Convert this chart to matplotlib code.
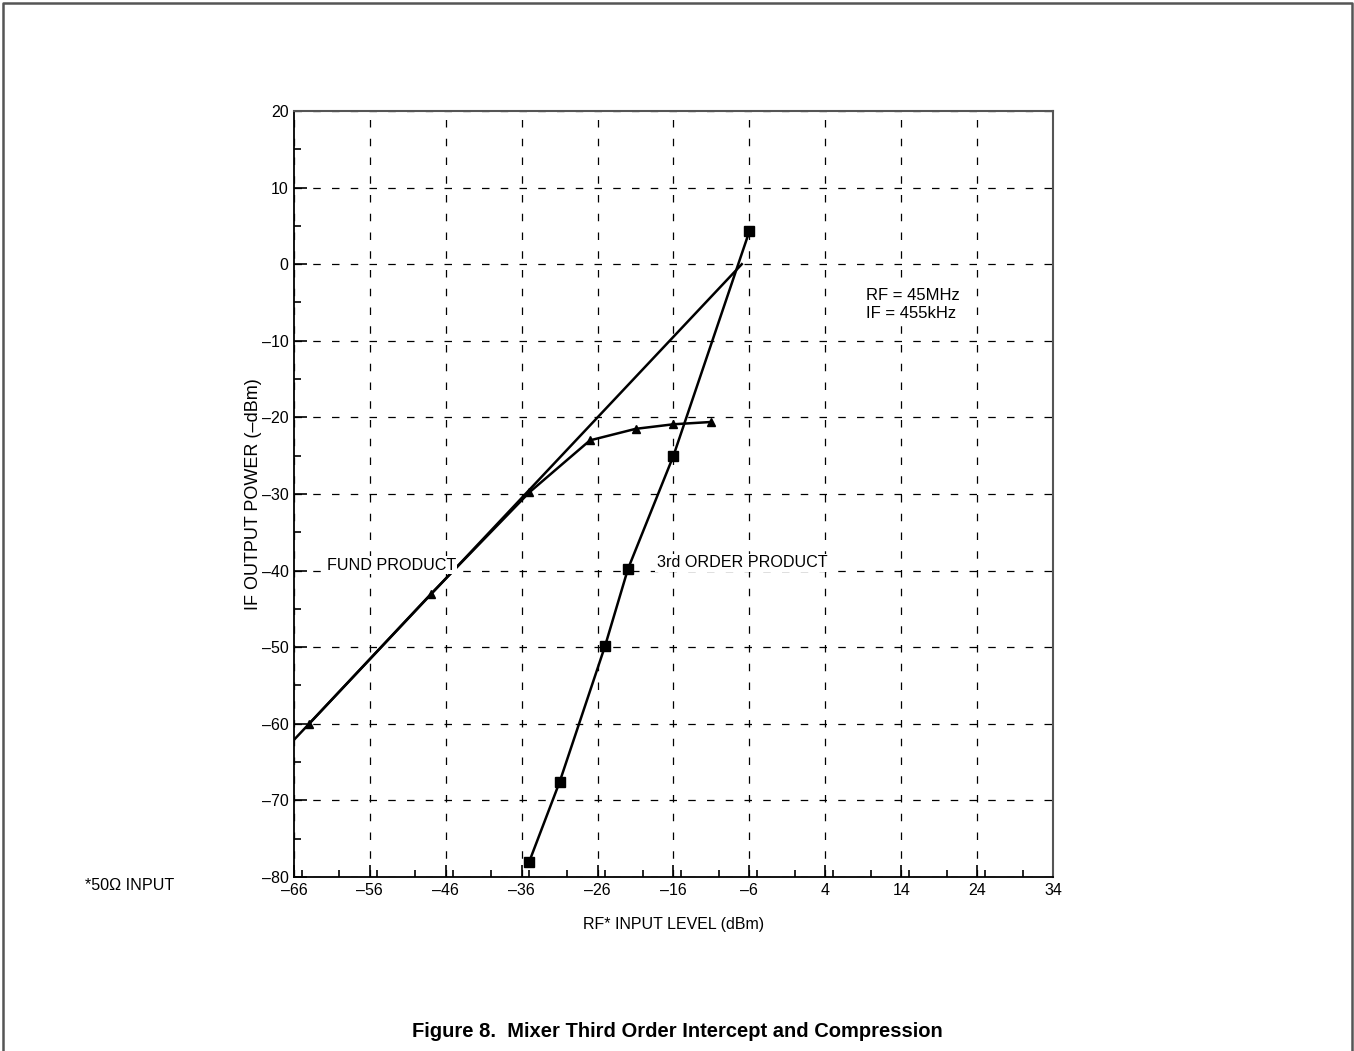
import numpy as np
import matplotlib
matplotlib.use('Agg')
import matplotlib.pyplot as plt
from matplotlib.lines import Line2D
from matplotlib.ticker import MultipleLocator

plt.rcParams['font.family'] = ['Liberation Sans', 'DejaVu Sans']
plt.rcParams['axes.unicode_minus'] = True

# fundamental product (triangles)
fund_x = [-64, -48, -35, -27, -21, -16, -11]
fund_y = [-60, -43.1, -29.8, -23.0, -21.5, -20.9, -20.6]

# extrapolated fundamental (straight line)
ext_x = [-66, -7]
ext_y = [-62.1, 0]

# 3rd order product (squares)
third_x = [-35, -31, -25, -22, -16, -6]
third_y = [-78, -67.6, -49.8, -39.8, -25.0, 4.3]

xticks = np.arange(-66, 35, 10)
yticks = np.arange(-80, 21, 10)

fig = plt.figure(figsize=(13.54, 10.51), dpi=100)
ax = fig.add_axes([0.2171, 0.1656, 0.5606, 0.7288])

ax.plot(ext_x, ext_y, color='black', lw=1.8)
ax.plot(fund_x, fund_y, color='black', lw=1.8, marker='^', ms=6)
ax.plot(third_x, third_y, color='black', lw=1.8, marker='s', ms=6.5)

ax.set_xlim(-66, 34)
ax.set_ylim(-80, 20)
ax.set_xticks(xticks)
ax.set_yticks(yticks)
ax.xaxis.set_minor_locator(MultipleLocator(5))
ax.yaxis.set_minor_locator(MultipleLocator(5))
ax.set_xticklabels([str(int(v)).replace('-', '\u2013') for v in xticks])
ax.set_yticklabels([str(int(v)).replace('-', '\u2013') for v in yticks])
ax.tick_params(which='major', direction='in', length=9, width=1.2, labelsize=11.5, pad=4)
ax.tick_params(which='minor', direction='in', length=5, width=1.2)
ax.tick_params(top=False, right=False, which='both')

ax.grid(True, which='major', color='black', linestyle=(0, (6, 9)), lw=0.9)
for s in ['left', 'bottom']:
    ax.spines[s].set_color('black')
    ax.spines[s].set_linewidth(1.3)
for s in ['top', 'right']:
    ax.spines[s].set_color('#555555')
    ax.spines[s].set_linewidth(1.5)

ax.set_xlabel('RF* INPUT LEVEL (dBm)', fontsize=11.5, labelpad=14)
ax.set_ylabel('IF OUTPUT POWER (\u2013dBm)', fontsize=13, labelpad=0)

ax.text(-61.7, -39.3, 'FUND PRODUCT', fontsize=11.6, va='center', ha='left',
        bbox=dict(facecolor='white', edgecolor='none', pad=1))
ax.text(-18.2, -39.0, '3rd ORDER PRODUCT', fontsize=11.6, va='center', ha='left',
        bbox=dict(facecolor='white', edgecolor='none', pad=1))
ax.text(9.4, -4.15, 'RF = 45MHz', fontsize=12, va='center', ha='left',
        bbox=dict(facecolor='white', edgecolor='none', pad=0.5))
ax.text(9.4, -6.5, 'IF = 455kHz', fontsize=12, va='center', ha='left',
        bbox=dict(facecolor='white', edgecolor='none', pad=0.5))

fig.text(85 / 1354, 0.157, '*50\u03a9 INPUT', fontsize=11.6, va='center', ha='left')
fig.text(0.5, 0.019, 'Figure 8.  Mixer Third Order Intercept and Compression',
         fontsize=14.5, fontweight='bold', ha='center', va='center')

# outer page frame (open at bottom)
fx = [3 / 1354, 3 / 1354, 1352 / 1354, 1352 / 1354]
fy = [0, 1 - 3 / 1051, 1 - 3 / 1051, 0]
fig.add_artist(Line2D(fx, fy, transform=fig.transFigure, color='#555555', lw=1.8))

plt.savefig('out.png', dpi=100)
